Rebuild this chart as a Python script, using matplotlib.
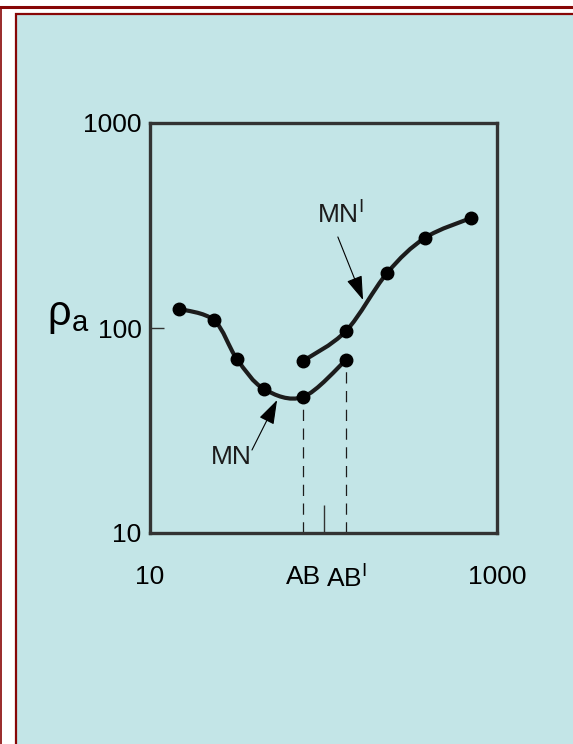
import numpy as np
import matplotlib.pyplot as plt
from matplotlib.path import Path
from matplotlib.patches import PathPatch, Rectangle
from matplotlib.lines import Line2D

plt.rcParams['font.family'] = ['Liberation Sans', 'DejaVu Sans']
plt.rcParams['mathtext.fontset'] = 'custom'
plt.rcParams['mathtext.rm'] = 'Liberation Sans'
plt.rcParams['mathtext.it'] = 'Liberation Sans'

# electrode spacing vs apparent resistivity
mn_x = [14.7, 23.4, 31.7, 45.4, 76.2, 134.8]
mn_y = [124, 109, 70.6, 50.4, 46.1, 69.8]
mn2_x = [76.2, 134.8, 232, 384, 708]
mn2_y = [69.0, 96.7, 185, 275, 344]
ab_x = [76.2, 134.8]
ab_y = [46.1, 69.8]
ab_labels = ['AB', 'AB$^{\\mathrm{I}}$']
x_ticks = [10, 100, 1000]
x_labels = ['10', '', '1000']
y_ticks = [10, 100, 1000]
y_labels = ['10', '100', '1000']

BLUE = '#c3e5e7'
RED = '#870606'
INK = '#1c1c1c'
W, H = 573, 744


def fx(px):
    return px / W


def fy(py):
    return 1 - py / H


def smooth_path(xs, ys):
    # catmull-rom through the points in log space, drawn as bezier pieces
    p = np.column_stack([np.log10(xs), np.log10(ys)])
    p = np.vstack([p[0], p, p[-1]])
    verts = [p[1]]
    codes = [Path.MOVETO]
    for i in range(1, len(p) - 2):
        c1 = p[i] + (p[i + 1] - p[i - 1]) / 6
        c2 = p[i + 1] - (p[i + 2] - p[i]) / 6
        verts += [c1, c2, p[i + 1]]
        codes += [Path.CURVE4] * 3
    return Path(10 ** np.array(verts), codes)


fig = plt.figure(figsize=(W / 100, H / 100), dpi=100)
fig.patch.set_facecolor('white')

# frame around the panel
fig.patches.append(Rectangle((fx(16), fy(800)), fx(620), fy(14) - fy(800),
                             transform=fig.transFigure, facecolor=BLUE,
                             edgecolor=RED, lw=1.6, zorder=-5))
fig.lines.append(Line2D([0, 1], [fy(7), fy(7)], transform=fig.transFigure,
                        color=RED, lw=2.2, zorder=-5))
fig.lines.append(Line2D([fx(0.6), fx(0.6)], [fy(7), 0], transform=fig.transFigure,
                        color=RED, lw=1.2, zorder=-5))

ax = fig.add_axes([fx(150), fy(533), fx(347), fy(123) - fy(533)])
ax.set_facecolor('none')
ax.set_xscale('log')
ax.set_yscale('log')
ax.set_xlim(10, 1000)
ax.set_ylim(10, 1000)

for xs, ys in [(mn_x, mn_y), (mn2_x, mn2_y)]:
    ax.add_patch(PathPatch(smooth_path(xs, ys), fc='none', ec=INK, lw=3, zorder=3))
    ax.plot(xs, ys, 'o', ms=9, color='black', zorder=4)

for x, y in zip(ab_x, ab_y):
    ax.plot([x, x], [10, y], color=INK, lw=0.9, ls=(0, (9, 6)), zorder=2)

# annotations
ax.text(29.3, 23.5, 'MN', fontsize=19, ha='center', va='center', color=INK)
ax.annotate('', xy=(54, 44.5), xytext=(38.7, 25.4),
            arrowprops=dict(arrowstyle='-|>,head_length=1.5,head_width=0.5',
                            mutation_scale=10, color='black', lw=0.8,
                            shrinkA=0, shrinkB=0))
ax.text(124.5, 356, 'MN$^{\\mathrm{I}}$', fontsize=19, ha='center', va='center', color=INK)
ax.annotate('', xy=(169, 137), xytext=(121, 278),
            arrowprops=dict(arrowstyle='-|>,head_length=1.5,head_width=0.5',
                            mutation_scale=10, color='black', lw=0.8,
                            shrinkA=0, shrinkB=0))

ax.set_xticks(x_ticks, x_labels)
ax.set_xticks(ab_x, ab_labels, minor=True)
ax.set_yticks(y_ticks, y_labels)
ax.set_yticks([], minor=True)
ax.tick_params(axis='x', which='major', direction='in', length=20, width=1,
               color='#333333', pad=23, labelsize=19)
ax.tick_params(axis='x', which='minor', length=0, pad=23, labelsize=19)
ax.tick_params(axis='y', which='major', direction='in', length=10, width=1,
               color='#333333', pad=6, labelsize=19)
for s in ax.spines.values():
    s.set_color('#333333')
    s.set_linewidth(2.4)

ax.set_ylabel('ρ$_{\\mathrm{a}}$', fontsize=30, rotation=0, va='center', ha='center')
ax.yaxis.set_label_coords(-0.235, 0.53)

fig.savefig('out.png', dpi=100, facecolor=fig.get_facecolor())
